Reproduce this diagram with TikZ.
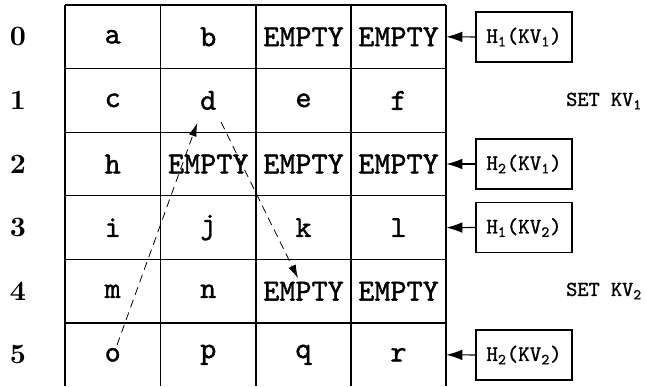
\documentclass[tikz,border=0pt]{standalone}
\usepackage{fontspec}
\newfontfamily\cellfont{lmmono10-regular.otf}[FakeBold=1.2]
\newfontfamily\digfont{lmroman10-bold.otf}
\usetikzlibrary{calc,arrows.meta}
\begin{document}
\begin{tikzpicture}[x=0.75pt,y=-0.75pt,
  grid/.style={line width=1pt},
  cell/.style={minimum width=71.4pt,minimum height=47.7pt,inner sep=0pt,font=\fontsize{23}{23}\selectfont\cellfont},
  rowlab/.style={font=\fontsize{21}{21}\selectfont\digfont},
  hbox/.style={draw,line width=0.8pt,minimum width=72pt,minimum height=37.5pt,inner sep=0pt,font=\fontsize{16.5}{16.5}\selectfont\cellfont},
  setlab/.style={font=\fontsize{16}{16}\selectfont\cellfont},
  harrow/.style={line width=0.8pt,-{Latex[length=12pt,width=8pt]}},
  darrow/.style={line width=0.6pt,dash pattern=on 6pt off 4pt,-{Latex[length=10pt,width=6pt]}}
]
\useasboundingbox (0,0) rectangle (646,386);
% grid lines
\foreach \yy in {5,68.6,132.2,195.8,259.4,323} \draw[grid] (65,\yy) -- (446,\yy);
\foreach \xx in {65,160.5,256,351,446} \draw[grid] (\xx,5) -- (\xx,386);
% cells
\def\cx{{112.75,208.25,303.5,398.5}}
\foreach \r/\row in {0/{a,b,EMPTY,EMPTY},1/{c,d,e,f},2/{h,EMPTY,EMPTY,EMPTY},3/{i,j,k,l},4/{m,n,EMPTY,EMPTY},5/{o,p,q,r}}{
  \foreach \t [count=\c from 0] in \row {
    \pgfmathsetmacro{\px}{\cx[\c]}
    \node[cell] (c\r\c) at (\px,36.8+63.6*\r) {\t};
  }
  \node[rowlab] (rl\r) at (18,36.8+63.6*\r) {\r};
}
% hash boxes
\node[hbox] (h11) at (524,37) {H\textsubscript{1}(KV\textsubscript{1})};
\node[hbox] (h21) at (524,164) {H\textsubscript{2}(KV\textsubscript{1})};
\node[hbox] (h12) at (524,227.5) {H\textsubscript{1}(KV\textsubscript{2})};
\node[hbox] (h22) at (524,355) {H\textsubscript{2}(KV\textsubscript{2})};
\node[setlab] (s1) at (604,101) {SET KV\textsubscript{1}};
\node[setlab] (s2) at (604,291) {SET KV\textsubscript{2}};
\draw[harrow] (h11.west) -- (c03.east);
\draw[harrow] (h21.west) -- (c23.east);
\draw[harrow] (h12.west) -- (c33.east);
\draw[harrow] (h22.west) -- (c53.east);
% dashed moves
\draw[darrow] ($(c50.center)+(4.25,-9.8)$) -- ($(c11.center)+(-11,22.6)$);
\draw[darrow] ($(c11.center)+(12.75,21.6)$) -- ($(c42.center)+(-5.5,-13)$);
\end{tikzpicture}
\end{document}
